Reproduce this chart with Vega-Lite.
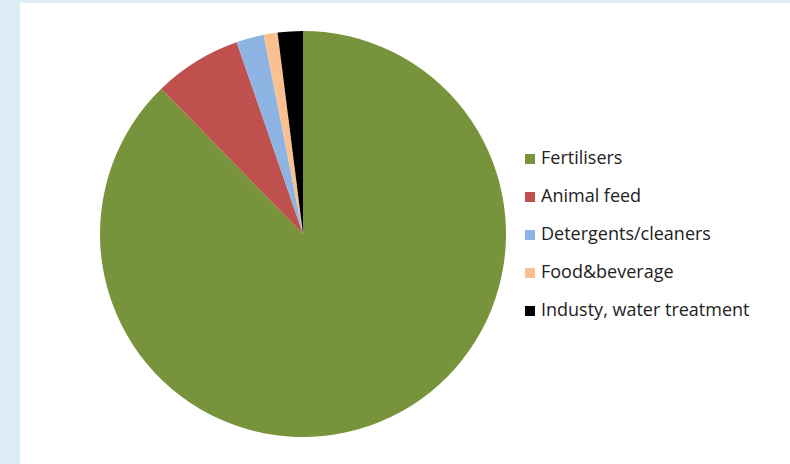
{
  "$schema": "https://vega.github.io/schema/vega-lite/v6.json",
  "autosize": {"type": "fit", "contains": "padding"},
  "width": 790,
  "height": 464,
  "padding": {"left": 20, "top": 3, "right": 0, "bottom": 0},
  "background": "#dcedf5",
  "config": {"view": {"stroke": null}},
  "layer": [
    {
      "data": {"values": [{"panel": 1}]},
      "mark": {"type": "rect", "color": "white"},
      "encoding": {}
    },
    {
      "data": {
        "values": [
          {"use": "Fertilisers", "share": 87.7, "rank": 1},
          {"use": "Animal feed", "share": 7.0, "rank": 2},
          {"use": "Detergents/cleaners", "share": 2.2, "rank": 3},
          {"use": "Food&beverage", "share": 1.1, "rank": 4},
          {"use": "Industy, water treatment", "share": 2.0, "rank": 5}
        ]
      },
      "mark": {"type": "arc", "outerRadius": 203, "x": 283, "y": 231},
      "encoding": {
        "theta": {"field": "share", "type": "quantitative", "stack": true},
        "order": {"field": "rank", "type": "quantitative"},
        "color": {
          "field": "use",
          "type": "nominal",
          "sort": ["Fertilisers", "Animal feed", "Detergents/cleaners", "Food&beverage", "Industy, water treatment"],
          "scale": {
            "domain": ["Fertilisers", "Animal feed", "Detergents/cleaners", "Food&beverage", "Industy, water treatment"],
            "range": ["#77933c", "#c0504d", "#8eb4e3", "#fac090", "#000000"]
          },
          "legend": {
            "title": null,
            "orient": "none",
            "legendX": 501,
            "legendY": 147,
            "symbolType": "square",
            "symbolSize": 100,
            "symbolStrokeWidth": 0,
            "labelFont": "Open Sans",
            "labelFontSize": 18,
            "labelColor": "#222222",
            "labelLimit": 400,
            "rowPadding": 20,
            "labelOffset": 2
          }
        }
      }
    }
  ]
}
